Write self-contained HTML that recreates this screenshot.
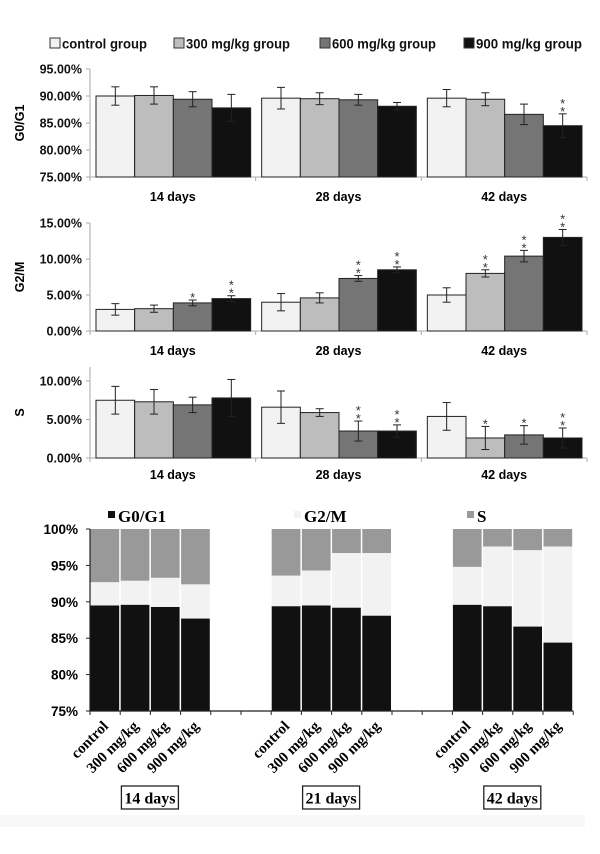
<!DOCTYPE html>
<html><head><meta charset="utf-8"><style>
body{margin:0;background:#fff}
svg text{font-family:"Liberation Sans",sans-serif}
.sf{font-family:"Liberation Serif",serif}
</style></head><body>
<svg id="fig" width="600" height="849" viewBox="0 0 600 849" xmlns="http://www.w3.org/2000/svg">
<rect x="0" y="0" width="600" height="849" fill="#fff"/>
<rect x="0" y="815" width="585" height="12" fill="#f8f8f8"/>
<g id="legend-top"></g>
<g id="panels"></g>
<g id="stacked"></g>
</svg>
<script>
const groupLabels = ["control group","300 mg/kg group","600 mg/kg group","900 mg/kg group"];
const dayLabels = ["14 days","28 days","42 days"];
const g0Values = [[90.0,90.1,89.4,87.8],[89.6,89.5,89.3,88.1],[89.6,89.4,86.6,84.5]];
const g0Errors = [[1.7,1.6,1.4,2.5],[2.0,1.1,1.0,0.7],[1.6,1.2,1.9,2.2]];
const g0Stars = [["","","",""],["","","",""],["","","","**"]];
const g2Values = [[3.0,3.1,3.9,4.5],[4.0,4.6,7.3,8.5],[5.0,8.0,10.4,13.0]];
const g2Errors = [[0.8,0.5,0.4,0.4],[1.2,0.7,0.4,0.4],[1.0,0.5,0.8,1.1]];
const g2Stars = [["","","*","**"],["","","**","**"],["","**","**","**"]];
const sValues = [[7.5,7.3,6.9,7.8],[6.6,5.9,3.5,3.5],[5.4,2.6,3.0,2.6]];
const sErrors = [[1.8,1.6,1.0,2.4],[2.1,0.5,1.3,0.8],[1.8,1.5,1.2,1.3]];
const sStars = [["","","",""],["","","**","**"],["","*","*","**"]];
const g0Ticks = [75,80,85,90,95];
const g2Ticks = [0,5,10,15];
const sTicks = [0,5,10];
const stackDays = ["14 days","21 days","42 days"];
const stackCats = ["control","300 mg/kg","600 mg/kg","900 mg/kg"];
const stackG0 = [[89.5,89.6,89.3,87.7],[89.4,89.5,89.2,88.1],[89.6,89.4,86.6,84.4]];
const stackG2 = [[3.2,3.3,4.0,4.7],[4.2,4.8,7.5,8.6],[5.2,8.2,10.5,13.2]];
const stackS = [[7.3,7.1,6.7,7.6],[6.4,5.7,3.3,3.3],[5.2,2.4,2.9,2.4]];
const stackTicks = [75,80,85,90,95,100];
const seriesNames = ["G0/G1","G2/M","S"];

const NS="http://www.w3.org/2000/svg";
function mk(tag,attrs,parent,text){const e=document.createElementNS(NS,tag);for(const k in attrs)e.setAttribute(k,attrs[k]);if(text!==undefined)e.textContent=text;parent.appendChild(e);return e;}
const fills=["#f2f2f2","#bdbdbd","#757575","#111111"];

const lg=document.getElementById('legend-top');
const lx=[50,174,320,464];
const lw=[85,104,104,106];
groupLabels.forEach((t,i)=>{
  const r=mk('rect',{x:lx[i],y:38,width:10,height:10,fill:fills[i],stroke:"#333","stroke-width":1},lg);
  
  
  const tx=mk('text',{x:lx[i]+12,y:48.5,"font-size":"14","font-weight":"bold",fill:"#111",textLength:lw[i],lengthAdjust:"spacingAndGlyphs"},lg,t);
  
  
});

function panel(name,vals,errs,stars,ticks,yMin,yMax,yBot,yTop,axisTop,title,dayY){
  const g=mk('g',{},document.getElementById('panels'));
  
  
  const x0=90,x1=587,gw=(x1-x0)/3;
  const y=v=>yBot-(v-yMin)/(yMax-yMin)*(yBot-yTop);
  mk('line',{x1:x0,y1:axisTop,x2:x0,y2:yBot,stroke:"#aaa"},g);
  mk('line',{x1:x0,y1:yBot,x2:x1,y2:yBot,stroke:"#aaa"},g);
  ticks.forEach(t=>{
    mk('line',{x1:x0-4,y1:y(t),x2:x0,y2:y(t),stroke:"#aaa"},g);
    const tl=mk('text',{x:x0-8,y:y(t)+4.5,"text-anchor":"end","font-size":"12.5","font-weight":"bold",fill:"#111"},g,t.toFixed(2)+"%");
    
    
  });
  for(let k=0;k<=3;k++) mk('line',{x1:x0+k*gw,y1:yBot,x2:x0+k*gw,y2:yBot+4,stroke:"#aaa"},g);
  const yt=mk('text',{x:0,y:0,"font-size":"12.5","font-weight":"bold","text-anchor":"middle",transform:`translate(24,${(axisTop+yBot)/2}) rotate(-90)`},g,title);
  
  
  vals.forEach((grp,d)=>{
    const gx=x0+d*gw;
    const dl=mk('text',{x:gx+gw/2,y:dayY,"text-anchor":"middle","font-size":"12.5","font-weight":"bold"},g,dayLabels[d]);
    
    
    const bw=(gw-11)/4;
    grp.forEach((v,i)=>{
      const bx=gx+6+i*bw, top=y(v);
      const b=mk('rect',{x:bx,y:top,width:bw,height:yBot-top,fill:fills[i],stroke:"#222","stroke-width":1},g);
      
      
      const cx=bx+bw/2,e=errs[d][i],ya=y(v+e),yb=y(v-e);
      mk('line',{x1:cx,y1:ya,x2:cx,y2:yb,stroke:"#222"},g);
      mk('line',{x1:cx-4,y1:ya,x2:cx+4,y2:ya,stroke:"#222"},g);
      mk('line',{x1:cx-4,y1:yb,x2:cx+4,y2:yb,stroke:"#222"},g);
      const s=stars[d][i];
      for(let j=0;j<s.length;j++){
        const st=mk('text',{x:cx,y:ya+2-j*8,"text-anchor":"middle","font-size":"13",fill:"#333"},g,"*");
        
        
      }
    });
  });
}
panel('g0g1',g0Values,g0Errors,g0Stars,g0Ticks,75,95,177,69,69,"G0/G1",201);
panel('g2m',g2Values,g2Errors,g2Stars,g2Ticks,0,15,331,223,223,"G2/M",355);
panel('s',sValues,sErrors,sStars,sTicks,0,10,458,381,367,"S",479);

(function(){
  const g=document.getElementById('stacked');
  
  
  const x0=90,slot=30.2,yBot=711,yTop=529;
  const y=v=>yBot-(v-75)/25*(yBot-yTop);
  const cols=["#111111","#f2f2f2","#999999"];
  stackDays.forEach((dl,d)=>{
    stackCats.forEach((c,i)=>{
      const bx=x0+(d*6+i)*slot;
      const a=stackG0[d][i],b=a+stackG2[d][i],s=b+stackS[d][i];
      const segs=[[75,a],[a,b],[b,Math.min(s,100)]];
      segs.forEach((sg,k)=>{
        const r=mk('rect',{x:bx+0.5,y:y(sg[1]),width:slot-1.5,height:y(sg[0])-y(sg[1]),fill:cols[k]},g);
        
        
      });
      const cx=bx+slot/2;
      const t=mk('text',{x:0,y:0,"text-anchor":"end","font-size":"15","font-weight":"bold",class:"sf",transform:`translate(${cx+4},${yBot+16}) rotate(-45)`},g,c);
      
      
    });
    const bxc=x0+(d*6+2)*slot;
    const br=mk('rect',{x:bxc-29,y:786,width:57,height:23,fill:"none",stroke:"#222","stroke-width":1.3},g);
    
    
    const bt=mk('text',{x:bxc-0.5,y:803.5,"text-anchor":"middle","font-size":"16","font-weight":"bold",class:"sf"},g,dl);
    
    
  });
  mk('line',{x1:x0,y1:yTop,x2:x0,y2:yBot,stroke:"#222","stroke-width":1.2},g);
  mk('line',{x1:x0,y1:yBot,x2:x0+16*slot,y2:yBot,stroke:"#222","stroke-width":1.2},g);
  for(let k=0;k<=16;k++) mk('line',{x1:x0+k*slot,y1:yBot,x2:x0+k*slot,y2:yBot+4,stroke:"#222"},g);
  stackTicks.forEach(t=>{
    mk('line',{x1:x0-4,y1:y(t),x2:x0,y2:y(t),stroke:"#222"},g);
    const tl=mk('text',{x:x0-12,y:y(t)+5,"text-anchor":"end","font-size":"13.5","font-weight":"bold"},g,t+"%");
    
    
  });
  const lgx=[108,294,467],lgc=["#111","#f2f2f2","#999"];
  seriesNames.forEach((n,k)=>{
    const r=mk('rect',{x:lgx[k],y:511,width:7,height:7,fill:lgc[k]},g);
    
    
    const t=mk('text',{x:lgx[k]+10,y:522,"font-size":"17","font-weight":"bold",class:"sf"},g,n);
    
    
  });
})();
</script>
</body></html>
